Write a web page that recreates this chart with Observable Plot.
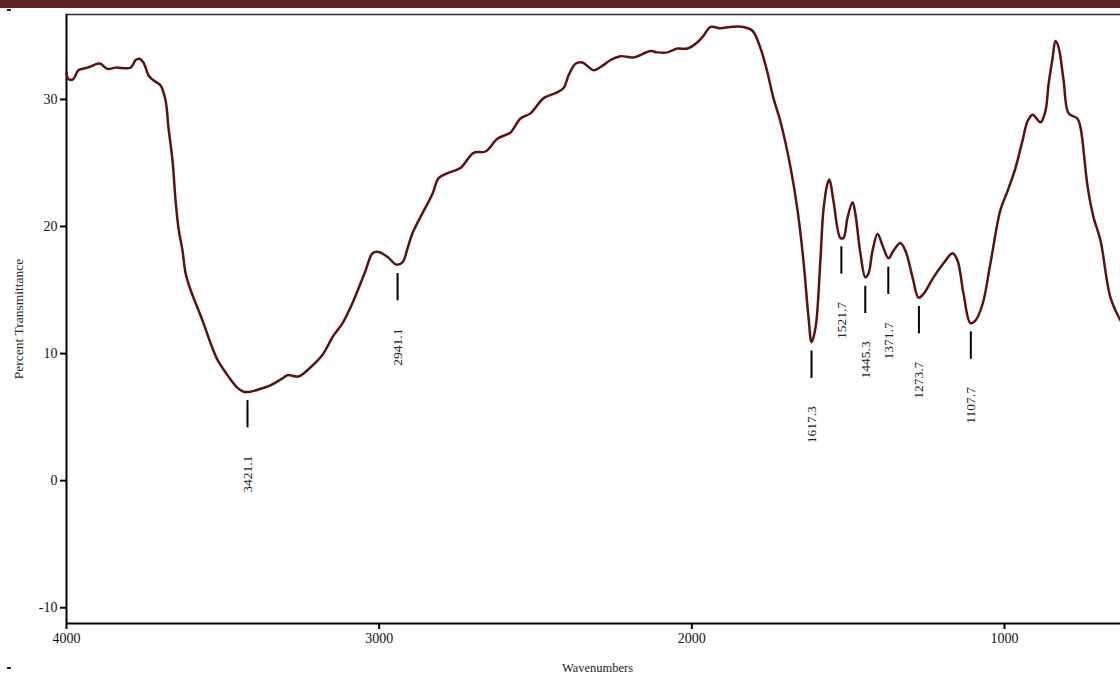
<!DOCTYPE html>
<html>
<head>
<meta charset="utf-8">
<script src="https://cdn.jsdelivr.net/npm/d3@7"></script>
<script src="https://cdn.jsdelivr.net/npm/@observablehq/plot@0.6"></script>
<style>
  html, body { margin: 0; padding: 0; background: #fff; }
  #wrap { position: relative; width: 1120px; height: 675px; overflow: hidden; }
  #band { position: absolute; left: 0; top: 0; width: 1120px; height: 8px; background: #622424; }
  .dash { position: absolute; left: 7px; width: 4px; height: 2px; background: #222; }
</style>
</head>
<body>
<div id="wrap">
  <div id="chart"></div>
  <div id="band"></div>
  <div class="dash" style="top:9px"></div>
  <div class="dash" style="top:667px"></div>
</div>
<script>
// Spectrum: wavenumber (cm-1) and percent transmittance
const wavenumbers = [4000,3994,3978,3962,3933,3901,3891,3869,3843,3795,3779,3767,3754,3738,3731,3722,3699,3683,3674,3661,3651,3642,3629,3619,3603,3581,3562,3539,3517,3485,3453,3434,3412,3370,3348,3306,3293,3258,3220,3181,3149,3117,3085,3060,3044,3021,3002,2973,2945,2925,2909,2893,2829,2810,2781,2740,2698,2660,2622,2580,2548,2516,2474,2436,2410,2394,2372,2350,2314,2283,2260,2228,2187,2132,2110,2078,2046,2014,1982,1963,1940,1908,1876,1835,1806,1780,1758,1739,1716,1684,1662,1643,1627,1617,1604,1589,1579,1566,1560,1547,1525,1515,1502,1486,1477,1461,1445,1435,1422,1406,1390,1371,1355,1333,1317,1294,1275,1259,1227,1195,1166,1150,1131,1109,1093,1070,1045,1013,990,965,942,926,910,885,869,859,846,837,827,811,795,767,757,734,715,693,661,629];
const transmittance = [32.1,31.6,31.6,32.3,32.5,32.8,32.8,32.4,32.5,32.5,33.1,33.2,32.9,31.9,31.7,31.5,31.1,29.9,27.8,25.2,22.0,19.9,18.1,16.3,15.0,13.6,12.4,10.8,9.5,8.3,7.3,7.0,7.0,7.3,7.5,8.1,8.3,8.2,8.9,9.9,11.3,12.4,14.0,15.5,16.5,17.9,18.0,17.6,17.0,17.2,18.3,19.5,22.6,23.8,24.2,24.6,25.8,25.9,26.9,27.4,28.5,28.9,30.1,30.5,30.9,31.9,32.8,32.9,32.3,32.7,33.1,33.4,33.3,33.8,33.7,33.7,34.0,34.0,34.5,35.0,35.7,35.6,35.7,35.7,35.4,34.0,32.1,30.1,28.2,24.6,21.3,17.3,12.9,10.9,12.1,17.3,21.3,23.4,23.7,22.0,19.1,19.1,20.7,21.9,21.0,17.9,16.0,16.3,18.1,19.4,18.5,17.5,18.1,18.7,18.1,16.0,14.4,14.7,16.0,17.1,17.9,17.3,14.7,12.4,12.6,13.9,17.1,21.3,22.8,24.6,26.8,28.3,28.8,28.2,29.1,31.2,33.3,34.6,34.1,31.5,28.9,28.5,27.8,23.1,20.7,18.9,14.4,12.6];

// Labelled peaks
const peakWavenumbers = [3421.1, 2941.1, 1617.3, 1521.7, 1445.3, 1371.7, 1273.7, 1107.7];
const peakTransmittance = [7.0, 17.0, 10.9, 19.1, 16.0, 17.5, 14.4, 12.4];

// Axis ticks
const xTicks = [4000, 3000, 2000, 1000];
const yTicks = [-10, 0, 10, 20, 30];

const spectrum = wavenumbers.map((w, i) => ({wn: w, t: transmittance[i]}));
const peaks = peakWavenumbers.map((w, i) => ({wn: w, t: peakTransmittance[i]}));

const xDomain = [4000, 629];
const yDomain = [-11.24, 36.68];

const chart = Plot.plot({
  width: 1120,
  height: 675,
  marginTop: 14,
  marginLeft: 66,
  marginRight: 0,
  marginBottom: 52,
  style: {fontFamily: "'Liberation Serif', 'Times New Roman', serif", fontSize: "14px", color: "#111", background: "#fff"},
  x: {domain: xDomain},
  y: {domain: yDomain},
  marks: [
    Plot.axisX({ticks: xTicks, tickSize: 6, tickPadding: 4, strokeWidth: 2, stroke: "#000", label: null, tickFormat: d => String(d), fontSize: 14}),
    Plot.axisY({ticks: yTicks, tickSize: 6, tickPadding: 3, strokeWidth: 2, stroke: "#000", label: null, tickFormat: d => String(d), fontSize: 14}),
    Plot.ruleY([yDomain[1]], {stroke: "#333", strokeWidth: 1.5}),
    Plot.ruleX([xDomain[0]], {stroke: "#000", strokeWidth: 2}),
    Plot.ruleY([yDomain[0]], {stroke: "#000", strokeWidth: 2}),
    Plot.line(spectrum, {x: "wn", y: "t", stroke: "#5c1212", strokeWidth: 2.5, curve: "catmull-rom"}),
    Plot.ruleX(peaks, {x: "wn", y1: d => d.t - 0.7, y2: d => d.t - 2.85, stroke: "#000", strokeWidth: 2}),
    Plot.text(peaks, {x: "wn", y: "t", text: d => d.wn.toFixed(1), rotate: -90, textAnchor: "end", dy: 64, fill: "#222", fontSize: 13.5}),
    Plot.text(["Percent Transmittance"], {frameAnchor: "left", textAnchor: "middle", rotate: -90, dx: -48, fontSize: 13.5, fill: "#222"}),
    Plot.text(["Wavenumbers"], {frameAnchor: "bottom", textAnchor: "middle", dy: 48, dx: 4, fontSize: 12.5, fill: "#222"})
  ]
});
document.getElementById("chart").appendChild(chart);
</script>
</body>
</html>
